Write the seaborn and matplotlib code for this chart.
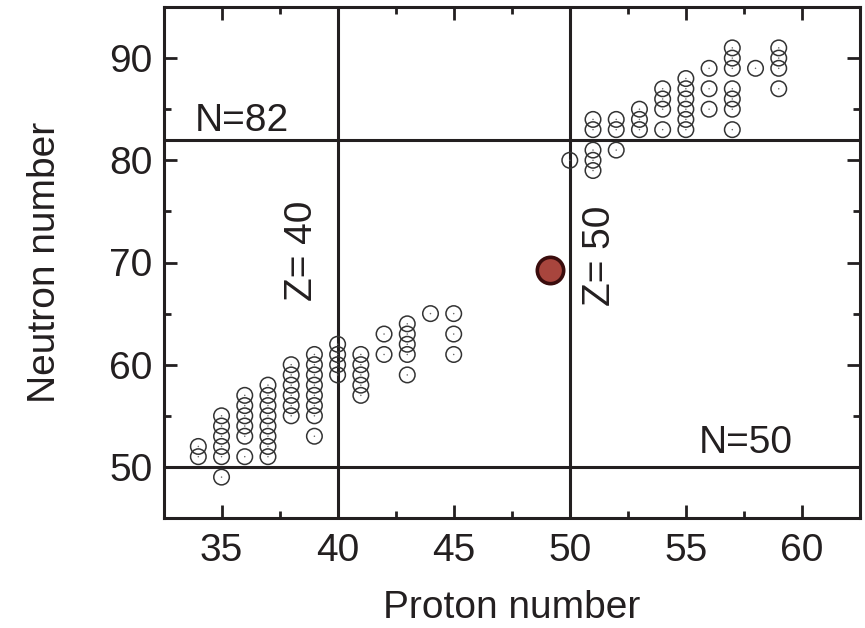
import numpy as np
import pandas as pd
import matplotlib
matplotlib.use("Agg")
import matplotlib.pyplot as plt
from matplotlib.ticker import MultipleLocator
import seaborn as sns

# ---- data ----
proton_open = ([34] * 2 + [35] * 6 + [36] * 6 + [37] * 8 + [38] * 6 + [39] * 8 +
               [40] * 4 + [41] * 5 + [42] * 2 + [43] * 5 + [44] * 1 + [45] * 3 +
               [50] * 1 + [51] * 5 + [52] * 3 + [53] * 3 + [54] * 4 + [55] * 6 +
               [56] * 3 + [57] * 7 + [58] * 1 + [59] * 4)
neutron_open = ([51, 52] +
                [49, 51, 52, 53, 54, 55] +
                [51, 53, 54, 55, 56, 57] +
                [51, 52, 53, 54, 55, 56, 57, 58] +
                [55, 56, 57, 58, 59, 60] +
                [53, 55, 56, 57, 58, 59, 60, 61] +
                [59, 60, 61, 62] +
                [57, 58, 59, 60, 61] +
                [61, 63] +
                [59, 61, 62, 63, 64] +
                [65] +
                [61, 63, 65] +
                [80] +
                [79, 80, 81, 83, 84] +
                [81, 83, 84] +
                [83, 84, 85] +
                [83, 85, 86, 87] +
                [83, 84, 85, 86, 87, 88] +
                [85, 87, 89] +
                [83, 85, 86, 87, 89, 90, 91] +
                [89] +
                [87, 89, 90, 91])
proton_red = [49.15]
neutron_red = [69.3]
magic_Z = [40, 50]
magic_N = [50, 82]
x_ticks = [35, 40, 45, 50, 55, 60]
y_ticks = [50, 60, 70, 80, 90]

df_open = pd.DataFrame({"Z": proton_open, "N": neutron_open})
df_red = pd.DataFrame({"Z": proton_red, "N": neutron_red})

# ---- style ----
sns.set_theme(style="ticks")
plt.rcParams["font.family"] = ["Liberation Sans", "DejaVu Sans"]
ink = "#231f20"
plt.rcParams.update({
    "axes.edgecolor": ink,
    "axes.linewidth": 2.2,
    "xtick.color": ink,
    "ytick.color": ink,
    "text.color": ink,
    "axes.labelcolor": ink,
})

fig = plt.figure(figsize=(8.65, 6.28), dpi=100)
ax = fig.add_axes([163.5 / 865, 1 - 518 / 628, (860 - 163.5) / 865, (518 - 7) / 628])

# reference lines
for z in magic_Z:
    ax.axvline(z, color=ink, lw=2.2, zorder=1)
for n in magic_N:
    ax.axhline(n, color=ink, lw=2.2, zorder=1)

# open circles with a tiny centre dot
sns.scatterplot(data=df_open, x="Z", y="N", ax=ax, marker="o", s=125,
                facecolor="none", edgecolor="#333333", linewidth=1.1, zorder=3)
sns.scatterplot(data=df_open, x="Z", y="N", ax=ax, marker="o", s=1.2,
                color="#666666", edgecolor="none", linewidth=0, zorder=3)
# highlighted nucleus
sns.scatterplot(data=df_red, x="Z", y="N", ax=ax, marker="o", s=360,
                color="#a8453d", edgecolor="#3b0d0d", linewidth=2.6, zorder=4)

ax.set_xlim(32.5, 62.5)
ax.set_ylim(45, 95)
ax.set_xticks(x_ticks)
ax.set_yticks(y_ticks)
ax.xaxis.set_minor_locator(MultipleLocator(2.5))
ax.yaxis.set_minor_locator(MultipleLocator(5))
ax.tick_params(which="both", direction="in", top=True, right=True, width=2.0,
               labelsize=28)
ax.tick_params(which="major", length=9.5)
ax.tick_params(which="minor", length=5)
ax.tick_params(axis="y", which="major", pad=8)
ax.tick_params(axis="x", which="major", pad=11)
for s in ax.spines.values():
    s.set_visible(True)
    s.set_linewidth(2.2)

ax.set_xlabel("Proton number", fontsize=28, labelpad=15)
ax.set_ylabel("Neutron number", fontsize=28, labelpad=33)

# annotations
ax.text(33.86, 82.87, "N=82", fontsize=28, ha="left", va="baseline")
ax.text(55.57, 51.34, "N=50", fontsize=28, ha="left", va="baseline")
ax.text(38.89, 66.2, "Z= 40", fontsize=28, rotation=90, rotation_mode="anchor",
        ha="left", va="baseline")
ax.text(51.75, 65.7, "Z= 50", fontsize=28, rotation=90, rotation_mode="anchor",
        ha="left", va="baseline")

fig.savefig("out.png", dpi=100)
